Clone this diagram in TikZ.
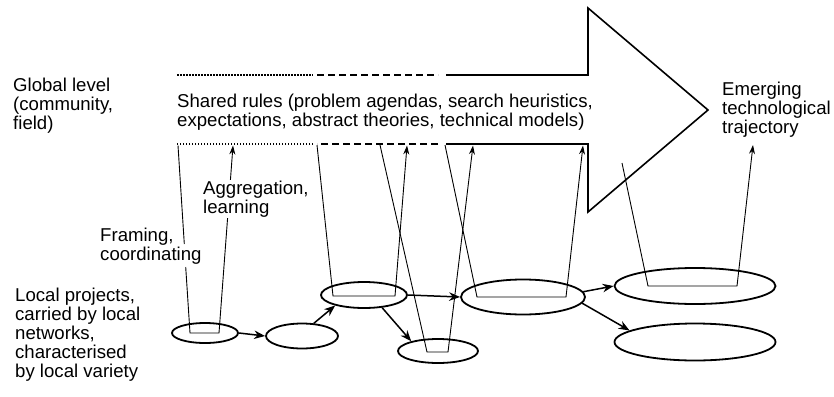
\documentclass[tikz,border=0pt]{standalone}
\usepackage{fontspec}
\setmainfont{Liberation Sans}
\usetikzlibrary{shapes.geometric,arrows.meta}
\begin{document}
\begin{tikzpicture}[x=1pt,y=-1pt,
  txt/.style={font=\fontsize{18.6}{19}\selectfont, align=left, anchor=base west, inner sep=0pt},
  shaft/.style={line width=1.6pt},
  dotl/.style={shaft, dash pattern=on 1.5pt off 1.5pt},
  dashl/.style={shaft, dash pattern=on 7pt off 4pt},
  ell/.style={draw, ellipse, line width=1.8pt, inner sep=0pt},
  thinl/.style={line width=0.9pt},
  up/.style={thinl, -{Stealth[length=9pt,width=6pt]}},
  flow/.style={line width=1.5pt, -{Stealth[length=11pt,width=8.5pt]}},
]
\useasboundingbox (0,0) rectangle (834,396);

% big arrow (shared rules)
\coordinate (T0) at (177,75);
\coordinate (T1) at (313,75);
\coordinate (T2) at (317,75);
\coordinate (T3) at (438,75);
\coordinate (T4) at (446,75);
\coordinate (T5) at (588,75);
\coordinate (H1) at (588,8);
\coordinate (Tip) at (708,110);
\coordinate (H2) at (588,212);
\coordinate (B5) at (588,144);
\coordinate (B4) at (446,144);
\coordinate (B3) at (438,144);
\coordinate (B2) at (317,144);
\coordinate (B1) at (313,144);
\coordinate (B0) at (177,144);
\draw[dotl] (T0) -- (T1);
\draw[dashl] (T2) -- (T3);
\draw[shaft] (T4) -- (T5) -- (H1) -- (Tip) -- (H2) -- (B5) -- (B4);
\draw[dashl] (B3) -- (B2);
\draw[dotl] (B1) -- (B0);

% local project ellipses
\node[ell, minimum width=66pt, minimum height=20pt] (E1) at (205,333) {};
\node[ell, minimum width=72pt, minimum height=25pt] (E2) at (302,336) {};
\node[ell, minimum width=86pt, minimum height=26pt] (E3) at (364,295) {};
\node[ell, minimum width=80pt, minimum height=24pt] (E4) at (438,351) {};
\node[ell, minimum width=124pt, minimum height=35pt] (E5) at (523,297) {};
\node[ell, minimum width=161pt, minimum height=36pt] (E6) at (695,286) {};
\node[ell, minimum width=161pt, minimum height=37pt] (E7) at (695,342) {};

% framing / aggregation links
\coordinate (F1) at (178,145.5);
\coordinate (fr1) at (184.3,244);
\coordinate (fr2) at (185.7,267);
\coordinate (u1a) at (190,333);
\coordinate (u1b) at (219,333);
\coordinate (A1) at (233,145.5);
\draw[thinl] (F1) -- (fr1);
\draw[up] (fr2) -- (u1a) -- (u1b) -- (A1);

\coordinate (L1) at (317,145);
\coordinate (u3a) at (333,296);
\coordinate (u3b) at (395,296);
\coordinate (A3) at (407,145.5);
\draw[up] (L1) -- (u3a) -- (u3b) -- (A3);

\coordinate (L2) at (380,145);
\coordinate (u4a) at (427,352);
\coordinate (u4b) at (448,352);
\coordinate (A4) at (473,145.5);
\draw[up] (L2) -- (u4a) -- (u4b) -- (A4);

\coordinate (L3) at (445,145);
\coordinate (u5a) at (477,297);
\coordinate (u5b) at (566,297);
\coordinate (A5) at (583,145.5);
\draw[up] (L3) -- (u5a) -- (u5b) -- (A5);

\coordinate (L4) at (622,163);
\coordinate (u6a) at (648,286);
\coordinate (u6b) at (737,286);
\coordinate (A6) at (753,145);
\draw[up] (L4) -- (u6a) -- (u6b) -- (A6);

% flows between local projects
\draw[flow] (E1.east) -- (E2.west);
\draw[flow] (E2.47) -- (E3.200);
\draw[flow] (E3.-35) -- (E4.160);
\draw[flow] (E3.east) -- (E5.west);
\draw[flow] (E5.5) -- (E6.west);
\draw[flow] (E5.-6) -- (E7.170);

% texts (anchored at the baseline of their last line)
\node[txt] (gl) at (13,129) {Global level\\(community,\\field)};
\node[txt] (sr) at (177,126) {Shared rules (problem agendas, search heuristics,\\expectations, abstract theories, technical models)};
\node[txt, fill=white, inner sep=1pt] (ag) at (202,213) {Aggregation,\\learning};
\node[txt] (fc) at (100,260) {Framing,\\coordinating};
\node[txt] (lp) at (15,377) {Local projects,\\carried by local\\networks,\\characterised\\by local variety};
\node[txt] (em) at (722,133) {Emerging\\technological\\trajectory};
\end{tikzpicture}
\end{document}
